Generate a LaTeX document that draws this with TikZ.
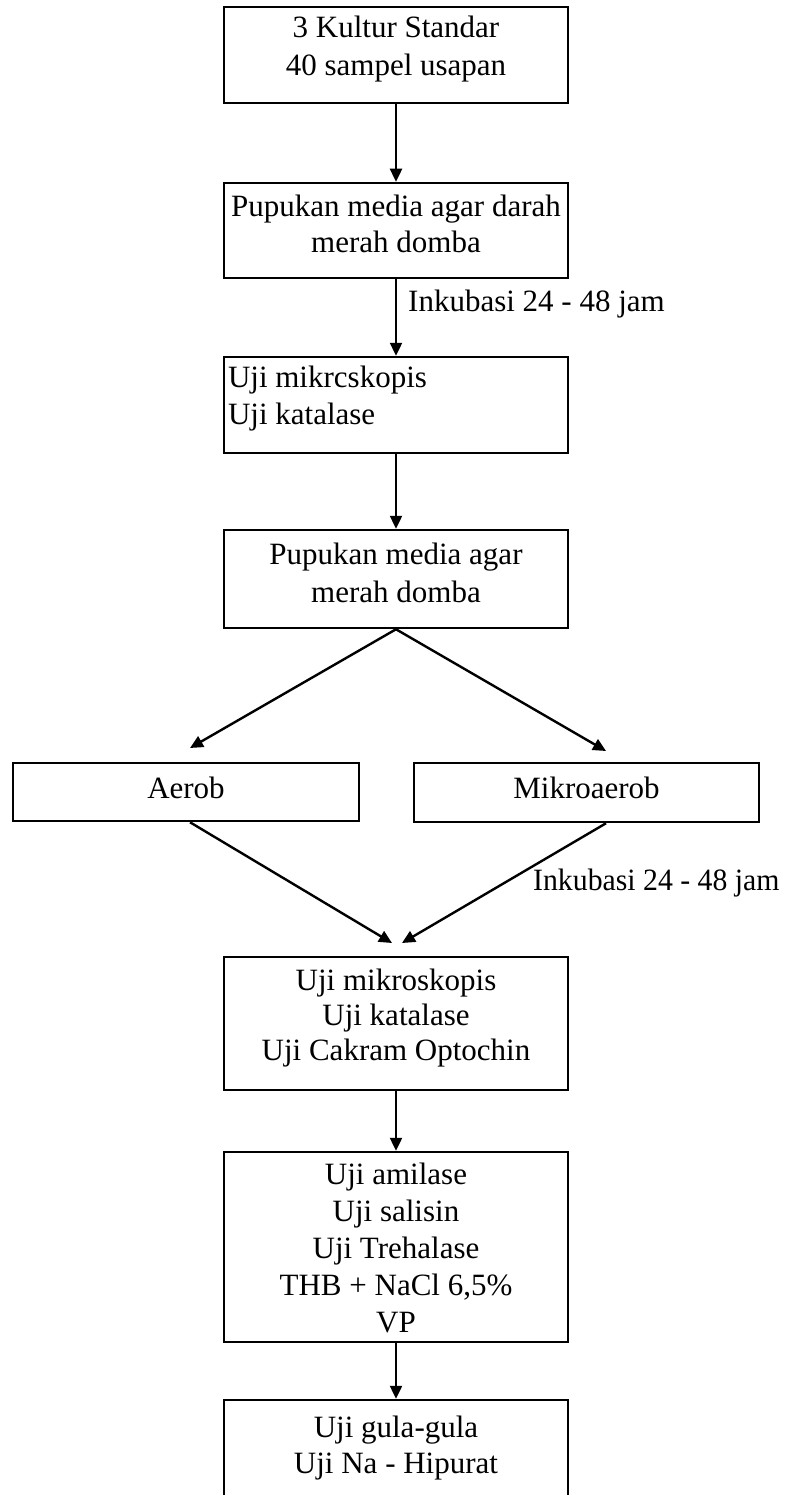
\documentclass[tikz,border=0pt]{standalone}
\usepackage{fontspec}
\setmainfont{Liberation Serif}
\usetikzlibrary{arrows.meta}
% #1 column spec, #2 baselineskip, #3 raise, #4 content
\newcommand{\bxt}[4]{\fontsize{31}{#2}\selectfont\raisebox{#3}[\height][\depth]{\begin{tabular}{@{}#1@{}}#4\end{tabular}}}
\begin{document}
\begin{tikzpicture}[x=1pt,y=-1pt,
  box/.style={draw, line width=2.5pt, minimum width=344pt, inner sep=0pt},
  lbl/.style={inner sep=0pt, anchor=base west, font=\fontsize{31}{36}\selectfont},
  arr/.style={line width=2.4pt, -{Triangle[length=13pt,width=12pt]}},
  ln/.style={line width=2.4pt}]
\clip (0,0) rectangle (796,1495);
\fill[white] (0,0) rectangle (796,1495);

\node[box, minimum height=96pt] (b1) at (396,55) {\bxt{c}{38pt}{6pt}{3 Kultur Standar\\40 sampel usapan}};
\node[box, minimum height=95pt] (b2) at (396,230.5) {\bxt{c}{36pt}{3pt}{Pupukan media agar darah\\merah domba}};
\node[box, minimum height=96pt] (b3) at (396,405) {\bxt{p{336pt}}{37pt}{6pt}{Uji mikrcskopis\\Uji katalase}};
\node[box, minimum height=98pt] (b4) at (396,579) {\bxt{c}{38pt}{3pt}{Pupukan media agar\\merah domba}};
\node[box, minimum width=346pt, minimum height=58pt] (aer) at (186,792) {\bxt{c}{36pt}{1pt}{Aerob}};
\node[box, minimum width=345pt, minimum height=59pt] (mik) at (586.5,792.5) {\bxt{c}{36pt}{1pt}{Mikroaerob}};
\node[box, minimum height=133pt] (b5) at (396,1023.5) {\bxt{c}{35pt}{5.5pt}{Uji mikroskopis\\Uji katalase\\Uji Cakram Optochin}};
\node[box, minimum height=190pt] (b6) at (396,1247) {\bxt{c}{37pt}{-4.5pt}{Uji amilase\\Uji salisin\\Uji Trehalase\\THB + NaCl 6,5\%\\VP}};
\node[box, minimum height=104pt] (b7) at (396,1452) {\bxt{c}{36pt}{4pt}{Uji gula-gula\\Uji Na - Hipurat}};

\node[lbl] (l1) at (408,312) {Inkubasi 24 - 48 jam};
\node[lbl] (l2) at (533,890) {\scalebox{0.96}[1]{Inkubasi 24 - 48 jam}};

\coordinate (la) at (190,748);
\coordinate (ra) at (606,751);
\coordinate (cl) at (392,943);
\coordinate (cr) at (402,943);

\draw[arr] (b1.south) -- (b2.north);
\draw[arr] (b2.south) -- (b3.north);
\draw[arr] (b3.south) -- (b4.north);
\draw[arr] (b4.south) -- (la);
\draw[arr] (b4.south) -- (ra);
\draw[arr] ([xshift=4pt]aer.south) -- (cl);
\draw[arr] ([xshift=19.5pt]mik.south) -- (cr);
\draw[arr] (b5.south) -- (b6.north);
\draw[arr] (b6.south) -- (b7.north);
\end{tikzpicture}
\end{document}
